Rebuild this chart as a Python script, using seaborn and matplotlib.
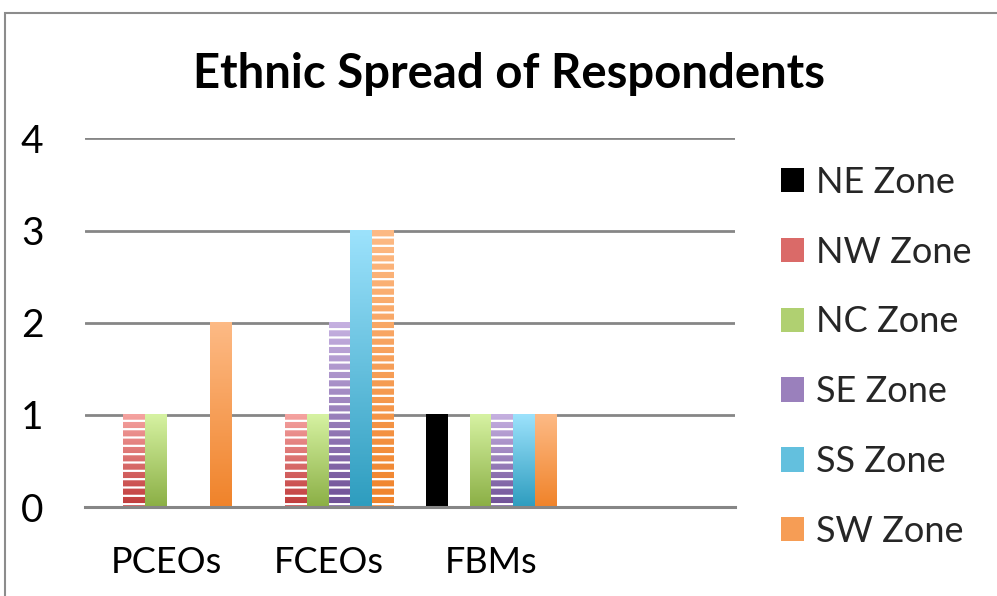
import numpy as np
import pandas as pd
import matplotlib.pyplot as plt
import seaborn as sns
from matplotlib.colors import LinearSegmentedColormap
from matplotlib.patches import Patch, Rectangle

sns.set_theme(style="white")
plt.rcParams['font.family'] = ['Lato', 'DejaVu Sans']
plt.rcParams['hatch.linewidth'] = 1.6

# Data
categories = ['PCEOs', 'FCEOs', 'FBMs']
zones = ['NE Zone', 'NW Zone', 'NC Zone', 'SE Zone', 'SS Zone', 'SW Zone']
ne = [0, 0, 1]
nw = [1, 1, 0]
nc = [1, 1, 1]
se = [0, 2, 1]
ss = [0, 3, 1]
sw = [2, 3, 1]

df = pd.DataFrame({
    'Group': categories * len(zones),
    'Zone': [z for z in zones for _ in categories],
    'Count': ne + nw + nc + se + ss + sw,
})

# top / bottom colours of the Excel-style gradients
grad_colors = {
    'NE Zone': ('#000000', '#000000'),
    'NW Zone': ('#F5A3A0', '#BF3A3A'),
    'NC Zone': ('#D6F2A2', '#8BAF45'),
    'SE Zone': ('#C5B0E0', '#6E5096'),
    'SS Zone': ('#9CE2FC', '#2E9DBF'),
    'SW Zone': ('#FDBA85', '#F0832A'),
}
mid_colors = {'NE Zone': '#000000', 'NW Zone': '#DA6A68', 'NC Zone': '#B0D071',
              'SE Zone': '#9A80BC', 'SS Zone': '#63C0DE', 'SW Zone': '#F69D55'}
# bars that show white stripes in the original
striped = {('NW Zone', 'PCEOs'), ('NW Zone', 'FCEOs'), ('SE Zone', 'FCEOs'),
           ('SE Zone', 'FBMs'), ('SW Zone', 'FCEOs')}

fig = plt.figure(figsize=(9.97, 5.96), dpi=100)
ax = fig.add_axes([0.0853, 0.149, 0.6518, 0.619])

sns.barplot(data=df, x='Group', y='Count', hue='Zone', order=categories,
            hue_order=zones, palette=mid_colors, ax=ax, legend=False,
            errorbar=None, saturation=1)

# paint gradients over the bars seaborn drew
for zone, cont in zip(zones, ax.containers):
    cmap = LinearSegmentedColormap.from_list(zone, [grad_colors[zone][1], grad_colors[zone][0]])
    for cat, bar in zip(categories, cont):
        h = bar.get_height()
        if h <= 0:
            bar.set_visible(False)
            continue
        x0 = bar.get_x()
        w = bar.get_width()
        ax.imshow(np.linspace(0, 1, 100).reshape(-1, 1), extent=(x0, x0 + w, 0, h),
                  origin='lower', aspect='auto', cmap=cmap, zorder=2)
        bar.set_facecolor('none')
        bar.set_zorder(3)
        bar.set_linewidth(0)
        if (zone, cat) in striped:
            bar.set_hatch('--')
            bar.set_edgecolor('white')

ax.set_xlim(-0.5, 3.5)
ax.set_ylim(0, 4)
ax.set_yticks([0, 1, 2, 3, 4])
ax.set_xticks([0, 1, 2])
ax.set_xticklabels(categories)
ax.set_xlabel('')
ax.set_ylabel('')
ax.tick_params(axis='y', length=0, pad=30, labelsize=28, colors='black')
ax.tick_params(axis='x', length=0, pad=28, labelsize=26, colors='black')
ax.yaxis.grid(True, color='#868686', linewidth=2, zorder=0)
ax.set_axisbelow(True)
for s in ['left', 'right', 'top']:
    ax.spines[s].set_visible(False)
ax.spines['bottom'].set_color('#868686')
ax.spines['bottom'].set_linewidth(2.2)
ax.spines['bottom'].set_zorder(4)

fig.text(0.511, 0.876, 'Ethnic Spread of Respondents', ha='center', va='center',
         fontsize=34, fontweight='bold', color='black')

handles = [Patch(facecolor=mid_colors[z], edgecolor='none') for z in zones]
fig.legend(handles, zones, loc='upper left', bbox_to_anchor=(0.783, 0.722),
           frameon=False, fontsize=26, handlelength=0.66, handleheight=0.66,
           handletextpad=0.32, labelspacing=1.02, borderpad=0, borderaxespad=0)

# outer chart frame (cropped on right and bottom)
fig.patches.append(Rectangle((0.005, -0.1), 1.2, 0.878 + 0.1 + 0.1, transform=fig.transFigure,
                             fill=False, edgecolor='#8C8C8C', linewidth=1.5))

fig.savefig('out.png', dpi=100)
